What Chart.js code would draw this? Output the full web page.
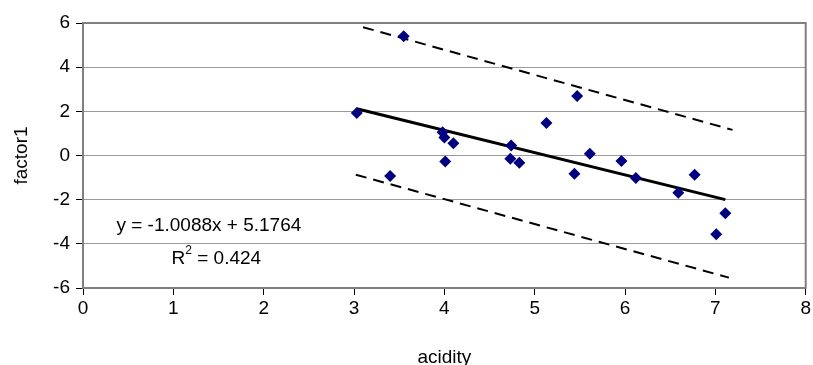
<!DOCTYPE html>
<html>
<head>
<meta charset="utf-8">
<script src="https://cdn.jsdelivr.net/npm/chart.js@4/dist/chart.umd.min.js"></script>
<style>
  html, body { margin: 0; padding: 0; background: #fff; }
  #wrap { width: 813px; height: 365px; position: relative; }
</style>
</head>
<body>
<div id="wrap"><canvas id="c" width="813" height="365"></canvas></div>
<script>
// ---- data ----
const acidity = [3.03, 3.55, 3.40, 3.98, 4.00, 4.01, 4.10, 4.73, 4.74, 4.83, 5.13, 5.44, 5.47, 5.61, 5.96, 6.12, 6.59, 6.77, 7.01, 7.11];
const factor1 = [1.92, 5.40, -0.93, 1.05, 0.82, -0.27, 0.56, -0.15, 0.45, -0.33, 1.47, -0.83, 2.70, 0.08, -0.25, -1.02, -1.69, -0.87, -3.57, -2.62];
const slope = -1.0088;
const intercept = 5.1764;
const rSquared = 0.424;
const upperX = [3.10, 7.19];
const upperY = [5.81, 1.16];
const lowerX = [3.02, 7.15];
const lowerY = [-0.87, -5.53];
const xTicks = [0, 1, 2, 3, 4, 5, 6, 7, 8];
const yTicks = [-6, -4, -2, 0, 2, 4, 6];
const xTitle = "acidity";
const yTitle = "factor1";

const FONT = "'Liberation Sans', Arial, sans-serif";

const points = acidity.map((x, i) => ({ x: x, y: factor1[i] }));
const xMin = Math.min(...acidity), xMax = Math.max(...acidity);
const trend = [xMin, xMax].map(x => ({ x: x, y: slope * x + intercept }));
const upper = upperX.map((x, i) => ({ x: x, y: upperY[i] }));
const lower = lowerX.map((x, i) => ({ x: x, y: lowerY[i] }));

const decor = {
  id: 'decor',
  beforeDatasetsDraw(chart) {
    const { ctx, chartArea: a } = chart;
    ctx.save();
    ctx.strokeStyle = '#808080';
    ctx.lineWidth = 2;
    ctx.strokeRect(a.left, a.top, a.right - a.left, a.bottom - a.top);
    ctx.restore();
  },
  afterDatasetsDraw(chart) {
    const { ctx } = chart;
    const xs = chart.scales.x, ys = chart.scales.y;
    ctx.save();
    ctx.fillStyle = '#000';
    ctx.textBaseline = 'middle';
    ctx.textAlign = 'left';
    ctx.font = '19px ' + FONT;
    const eq = 'y = ' + slope.toFixed(4) + 'x + ' + intercept.toFixed(4);
    ctx.fillText(eq, xs.getPixelForValue(0.37), ys.getPixelForValue(-3.18));
    // R² line
    let x0 = xs.getPixelForValue(0.98);
    const y0 = ys.getPixelForValue(-4.67);
    ctx.fillText('R', x0, y0);
    x0 += ctx.measureText('R').width;
    ctx.font = '12px ' + FONT;
    ctx.fillText('2', x0, y0 - 8);
    x0 += ctx.measureText('2').width;
    ctx.font = '19px ' + FONT;
    ctx.fillText(' = ' + rSquared.toFixed(3), x0, y0);
    ctx.restore();
  }
};

new Chart(document.getElementById('c'), {
  type: 'scatter',
  data: {
    datasets: [
      {
        label: 'factor1',
        data: points,
        pointStyle: 'rectRot',
        pointRadius: 6,
        pointHoverRadius: 6,
        backgroundColor: '#000080',
        borderColor: '#000080',
        borderWidth: 0,
        order: 1
      },
      {
        type: 'line',
        label: 'trend',
        data: trend,
        borderColor: '#000',
        borderWidth: 3,
        pointRadius: 0,
        fill: false,
        order: 2
      },
      {
        type: 'line',
        label: 'upper',
        data: upper,
        borderColor: '#000',
        borderWidth: 2,
        borderDash: [11, 7],
        pointRadius: 0,
        fill: false,
        order: 3
      },
      {
        type: 'line',
        label: 'lower',
        data: lower,
        borderColor: '#000',
        borderWidth: 2,
        borderDash: [11, 7],
        pointRadius: 0,
        fill: false,
        order: 3
      }
    ]
  },
  options: {
    responsive: false,
    animation: false,
    devicePixelRatio: 1,
    layout: { padding: { top: 23, right: 5, left: 0, bottom: 0 } },
    plugins: { legend: { display: false }, tooltip: { enabled: false } },
    scales: {
      x: {
        type: 'linear',
        min: 0, max: 8,
        afterBuildTicks: s => { s.ticks = xTicks.map(v => ({ value: v })); },
        afterFit: s => { s.height = 77; },
        ticks: { color: '#000', font: { family: FONT, size: 19 }, padding: 2, maxRotation: 0 },
        grid: { drawOnChartArea: false, drawTicks: true, tickLength: 7, tickColor: '#000', tickWidth: 1 },
        border: { color: '#808080', width: 2 },
        title: { display: true, text: xTitle, color: '#000', font: { family: FONT, size: 19 }, padding: { top: 0, bottom: -4 } }
      },
      y: {
        type: 'linear',
        min: -6, max: 6,
        afterBuildTicks: s => { s.ticks = yTicks.map(v => ({ value: v })); },
        afterFit: s => { s.width = 83; },
        ticks: { color: '#000', font: { family: FONT, size: 19 }, padding: 6 },
        grid: { color: '#9a9a9a', lineWidth: 1, borderDash: [3, 2], drawTicks: true, tickLength: 7, tickColor: '#000', tickWidth: 1, tickBorderDash: [] },
        border: { color: '#808080', width: 2 },
        title: { display: true, text: yTitle, color: '#000', font: { family: FONT, size: 19 }, padding: { top: 10, bottom: 0 } }
      }
    }
  },
  plugins: [decor]
});
</script>
</body>
</html>
